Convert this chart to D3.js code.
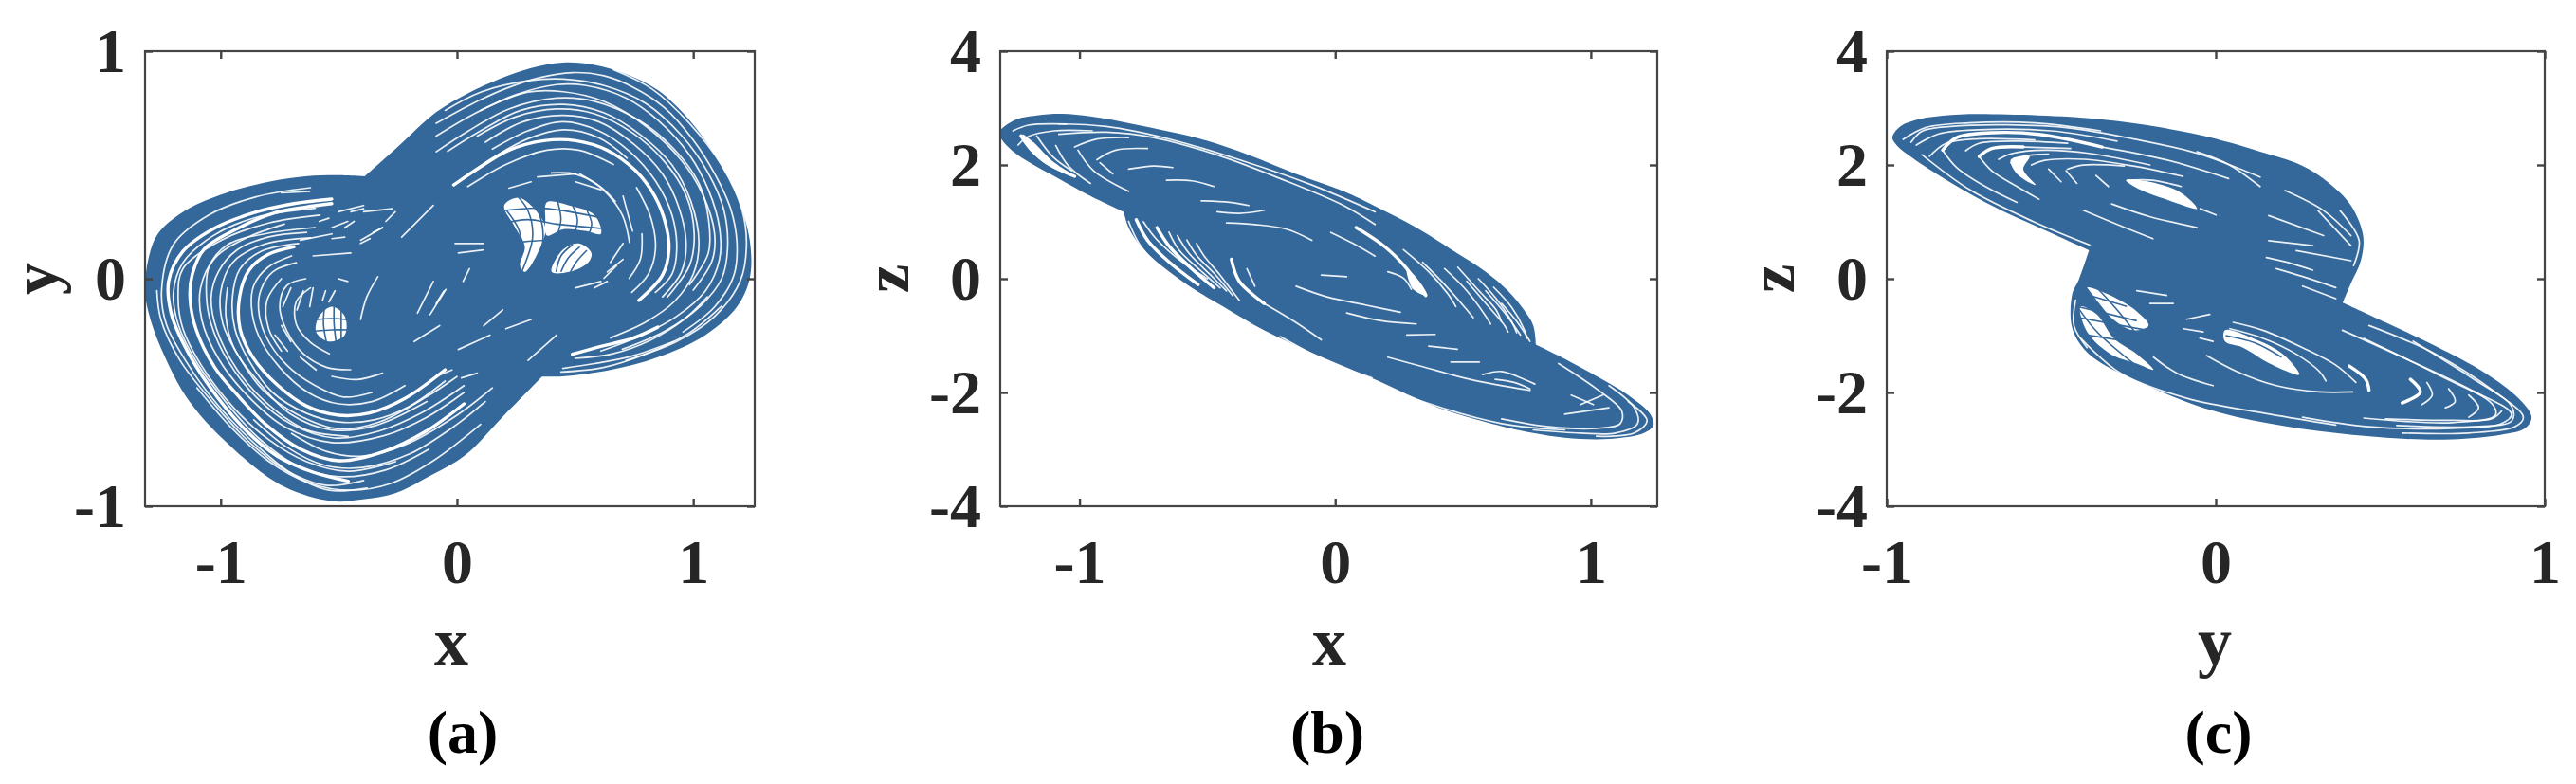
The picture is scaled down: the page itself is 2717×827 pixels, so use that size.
<!DOCTYPE html>
<html>
<head>
<meta charset="utf-8">
<script src="https://cdn.jsdelivr.net/npm/d3@7"></script>
<style>
  html, body { margin: 0; padding: 0; background: #fff; }
  text { font-family: "Liberation Serif", serif; font-weight: bold; fill: #262626; }
</style>
</head>
<body>
<svg id="chart" width="2717" height="827"></svg>
<script>
// All curves are hand-read from the picture, in data units. The traces are too
// dense to follow one by one, so each panel is an outline of the cloud plus
// the white gaps and the strands that can be made out inside it.
// A point written twice in an outline is a sharp corner.
const xTicks = [-1, 0, 1];
const yTicksA = [-1, 0, 1];
const zTicks = [-4, -2, 0, 2, 4];

// panel (a): x against y
const outlineA = [[-1.32,-0.05],[-1.306,0.086],[-1.266,0.197],[-1.159,0.294],[-0.998,0.37],[-0.797,0.426],[-0.64,0.45],[-0.50,0.455],[-0.39,0.45],[-0.39,0.45],[-0.25,0.58],[-0.088,0.732],[0.046,0.815],[0.18,0.878],[0.314,0.926],[0.448,0.95],[0.582,0.94],[0.716,0.899],[0.85,0.829],[0.984,0.697],[1.091,0.544],[1.185,0.363],[1.239,0.169],[1.239,0.002],[1.185,-0.123],[1.051,-0.248],[0.85,-0.345],[0.649,-0.401],[0.448,-0.429],[0.36,-0.43],[0.36,-0.43],[0.2,-0.6],[0.034,-0.776],[-0.12,-0.87],[-0.261,-0.943],[-0.4,-0.97],[-0.529,-0.978],[-0.73,-0.915],[-0.931,-0.762],[-1.132,-0.54],[-1.253,-0.304],[-1.305,-0.15]];
const wideGapsA = [
  [[-0.53,0.35],[-0.69,0.33],[-0.86,0.29],[-1.03,0.22],[-1.16,0.12],[-1.22,-0.01],[-1.21,-0.15],[-1.16,-0.28],[-1.05,-0.47],[-0.89,-0.67],[-0.76,-0.78],[-0.61,-0.85],[-0.46,-0.89]],
  [[-0.53,0.33],[-0.64,0.315],[-0.77,0.29],[-0.93,0.22],[-1.07,0.13],[-1.12,0.02],[-1.13,-0.08],[-1.105,-0.22],[-1.025,-0.39],[-0.93,-0.51],[-0.81,-0.64],[-0.66,-0.75],[-0.50,-0.80],[-0.31,-0.76],[-0.13,-0.67],[0.03,-0.55]],
  [[-0.69,0.14],[-0.80,0.106],[-0.88,0.037],[-0.92,-0.08],[-0.918,-0.22],[-0.864,-0.345],[-0.757,-0.47],[-0.636,-0.56],[-0.50,-0.60],[-0.37,-0.59],[-0.22,-0.526],[-0.05,-0.40]],
  [[0.488,-0.332],[0.609,-0.297],[0.743,-0.262],[0.85,-0.213]],
  [[-0.014,0.412],[0.086,0.482],[0.22,0.565],[0.368,0.607],[0.502,0.607],[0.636,0.565],[0.756,0.475],[0.837,0.363],[0.884,0.238],[0.897,0.127],[0.87,0.016],[0.77,-0.095]]
];
const thinGapsA = [
  [[-0.73,0.24],[-0.89,0.18],[-1.025,0.09],[-1.085,-0.04],[-1.08,-0.18],[-1.01,-0.35],[-0.89,-0.51],[-0.73,-0.65],[-0.53,-0.72],[-0.31,-0.69],[-0.13,-0.61],[0.03,-0.50]],
  [[-0.636,0.204],[-0.80,0.183],[-0.93,0.127],[-1.01,0.03],[-1.04,-0.08],[-1.018,-0.22],[-0.93,-0.40],[-0.797,-0.554],[-0.636,-0.665],[-0.46,-0.693]],
  [[-0.58,0.28],[-0.797,0.245],[-0.998,0.169],[-1.16,0.044],[-1.18,-0.08],[-1.16,-0.22],[-1.078,-0.387],[-0.944,-0.568],[-0.797,-0.707],[-0.636,-0.804],[-0.46,-0.846],[-0.26,-0.804]],
  [[-1.27,-0.053],[-1.253,-0.179],[-1.172,-0.359],[-1.025,-0.554],[-0.877,-0.72],[-0.717,-0.846],[-0.556,-0.908],[-0.395,-0.887]],
  [[-0.971,-0.04],[-0.978,-0.165],[-0.944,-0.304],[-0.837,-0.457],[-0.703,-0.596],[-0.529,-0.665],[-0.341,-0.644],[-0.127,-0.54]],
  [[-0.62,0.40],[-0.85,0.36],[-1.05,0.28],[-1.2,0.15],[-1.25,-0.05],[-1.23,-0.2],[-1.13,-0.39],[-1,-0.57],[-0.84,-0.74],[-0.68,-0.87],[-0.54,-0.93],[-0.38,-0.92]],
  [[-0.6,0.31],[-0.85,0.27],[-1.03,0.19],[-1.16,0.07],[-1.2,-0.06],[-1.18,-0.2],[-1.1,-0.37],[-0.98,-0.54],[-0.84,-0.7],[-0.68,-0.82],[-0.5,-0.87],[-0.3,-0.84],[-0.12,-0.75]],
  [[-0.6,0.225],[-0.8,0.2],[-0.97,0.15],[-1.05,0.05],[-1.06,-0.08],[-1.04,-0.2],[-0.97,-0.36],[-0.85,-0.52],[-0.7,-0.64],[-0.52,-0.7],[-0.33,-0.67],[-0.15,-0.59],[0.03,-0.47]],
  [[-0.62,0.18],[-0.82,0.15],[-0.95,0.07],[-1.0,-0.06],[-0.99,-0.2],[-0.93,-0.33],[-0.82,-0.49],[-0.67,-0.6],[-0.5,-0.66],[-0.33,-0.63],[-0.13,-0.52],[0.0,-0.43]],
  [[-0.67,0.155],[-0.83,0.12],[-0.92,0.04],[-0.95,-0.08],[-0.94,-0.22],[-0.88,-0.36],[-0.78,-0.5],[-0.64,-0.59],[-0.5,-0.63],[-0.35,-0.62],[-0.2,-0.56],[-0.05,-0.45]],
  [[-0.7,0.1],[-0.8,0.05],[-0.86,-0.03],[-0.87,-0.12],[-0.84,-0.25],[-0.75,-0.39],[-0.63,-0.5],[-0.5,-0.55],[-0.36,-0.54],[-0.22,-0.47]],
  [[-0.68,0.07],[-0.78,0.03],[-0.83,-0.05],[-0.84,-0.13],[-0.81,-0.25],[-0.72,-0.38],[-0.6,-0.47],[-0.48,-0.52],[-0.36,-0.5]],
  [[-0.64,0.0],[-0.72,-0.03],[-0.75,-0.12],[-0.72,-0.23],[-0.65,-0.33],[-0.55,-0.39],[-0.45,-0.4]],
  [[-0.62,-0.04],[-0.68,-0.1],[-0.68,-0.2],[-0.62,-0.28],[-0.54,-0.33]],
  [[-1.1,-0.48],[-0.95,-0.66],[-0.8,-0.8],[-0.62,-0.9],[-0.45,-0.93],[-0.28,-0.9],[-0.1,-0.8],[0.1,-0.64]],
  [[-0.86,-0.62],[-0.72,-0.74],[-0.56,-0.82],[-0.4,-0.83],[-0.2,-0.77],[0,-0.64],[0.12,-0.54]],
  [[-0.7,-0.68],[-0.55,-0.76],[-0.4,-0.78],[-0.22,-0.73],[0,-0.6],[0.15,-0.48]],
  [[-0.743,0.0],[-0.804,-0.095],[-0.797,-0.22],[-0.743,-0.318]],
  [[-0.529,-0.429],[-0.422,-0.443],[-0.315,-0.415]],
  [[-0.335,0.009],[-0.382,-0.081],[-0.408,-0.179]],
  [[-0.088,0.683],[0.059,0.766],[0.207,0.836],[0.354,0.885],[0.488,0.906],[0.622,0.892],[0.743,0.843],[0.877,0.753],[0.997,0.614],[1.091,0.461],[1.158,0.308],[1.185,0.155],[1.172,0.016],[1.091,-0.123],[0.957,-0.234]],
  [[-0.088,0.627],[0.073,0.725],[0.247,0.808],[0.421,0.853],[0.542,0.85],[0.716,0.794],[0.85,0.697],[0.984,0.544],[1.064,0.391],[1.111,0.224],[1.111,0.085],[1.051,-0.054],[0.93,-0.165],[0.783,-0.248],[0.609,-0.318]],
  [[0.086,0.627],[0.247,0.711],[0.421,0.746],[0.582,0.725],[0.743,0.641],[0.877,0.516],[0.971,0.363],[1.004,0.197],[0.984,0.058],[0.89,-0.081]],
  [[0.046,0.405],[0.207,0.502],[0.381,0.565],[0.515,0.565],[0.662,0.502]],
  [[0.729,0.002],[0.776,0.085],[0.783,0.197]],
  [[-0.088,0.558],[0.046,0.648],[0.22,0.746],[0.421,0.794],[0.582,0.78],[0.77,0.697],[0.917,0.572],[1.024,0.419],[1.064,0.266],[1.064,0.113],[0.984,-0.026]],
  [[0.662,0.919],[0.823,0.836],[0.984,0.683],[1.118,0.502],[1.205,0.308],[1.225,0.141],[1.198,-0.012],[1.091,-0.165],[0.93,-0.276],[0.716,-0.359]],
  [[0.448,-0.394],[0.582,-0.373],[0.743,-0.339],[0.917,-0.276]],
  [[-0.05,0.74],[0.1,0.82],[0.3,0.87],[0.45,0.878],[0.62,0.85],[0.8,0.77],[0.95,0.63],[1.06,0.47],[1.13,0.3],[1.145,0.13],[1.12,0],[1.03,-0.12],[0.88,-0.23],[0.7,-0.31]],
  [[-0.04,0.56],[0.1,0.65],[0.27,0.74],[0.45,0.766],[0.62,0.73],[0.78,0.63],[0.91,0.5],[0.99,0.34],[1.024,0.16],[1.0,0.02],[0.92,-0.1],[0.8,-0.19],[0.65,-0.26]],
  [[0.12,0.6],[0.28,0.69],[0.45,0.718],[0.6,0.69],[0.75,0.59],[0.87,0.46],[0.94,0.31],[0.97,0.15],[0.95,0.03],[0.87,-0.08]],
  [[0.15,0.57],[0.3,0.65],[0.45,0.69],[0.6,0.65],[0.73,0.56],[0.84,0.43],[0.91,0.28],[0.93,0.13],[0.91,0.02],[0.84,-0.06]],
  [[0.02,0.44],[0.15,0.53],[0.3,0.615],[0.45,0.655],[0.6,0.62],[0.72,0.53]],
  [[0.76,0.4],[0.82,0.27],[0.84,0.13],[0.81,0.02],[0.74,-0.06]],
  [[0.52,0.46],[0.62,0.39],[0.7,0.28],[0.73,0.16]],
  [[0.4,0.465],[0.5,0.46],[0.6,0.41],[0.67,0.34]],
  [[0.1,0.74],[0.3,0.82],[0.45,0.822],[0.62,0.78],[0.8,0.67],[0.95,0.52],[1.04,0.37],[1.09,0.2],[1.08,0.08],[1.0,-0.05]],
  [[0.5,-0.35],[0.66,-0.33],[0.82,-0.27],[0.96,-0.18],[1.06,-0.08]],
  [[0.44,-0.41],[0.62,-0.39],[0.8,-0.33],[0.98,-0.24],[1.12,-0.12]],
  [[-0.088,-0.109],[-0.055,-0.054]],[[0.026,-0.012],[0.053,0.044]],[[0.113,-0.207],[0.194,-0.137]],
  [[0.006,-0.311],[0.14,-0.248]],[[0.207,-0.22],[0.314,-0.179]],[[0.301,-0.359],[0.421,-0.248]],
  [[-0.088,-0.429],[-0.021,-0.401]],[[0.019,-0.436],[0.086,-0.415]],[[0.502,-0.04],[0.609,-0.012]],
  [[0.636,0.03],[0.703,0.085]],[[-0.008,0.155],[0.113,0.155]],[[0.006,0.113],[0.113,0.127]],
  [[-0.167,-0.151],[-0.10,-0.012]],[[-0.114,-0.158],[-0.047,-0.047]],[[-0.181,-0.276],[-0.073,-0.206]],
  [[-0.234,0.183],[-0.10,0.322]],[[-0.529,0.225],[-0.462,0.252]],[[-0.408,0.169],[-0.315,0.225]],
  [[-0.502,0.294],[-0.395,0.322]],[[-0.663,0.169],[-0.529,0.197]],[[-0.395,0.294],[-0.274,0.308]],
  [[-0.609,0.1],[-0.449,0.113]],
  [[-0.583,0.252],[-0.542,0.266]],[[-0.475,0.224],[-0.435,0.252]],[[-0.355,0.204],[-0.315,0.224]],
  [[-0.408,0.155],[-0.368,0.176]],[[-0.529,0.176],[-0.475,0.183]],[[-0.301,0.252],[-0.261,0.294]],
  [[-0.449,0.294],[-0.395,0.308]],[[-0.743,0.377],[-0.623,0.384]],
  [[-0.65,-0.053],[-0.677,-0.137]],[[-0.609,-0.04],[-0.623,-0.123]],[[-0.556,-0.053],[-0.569,-0.095]],
  [[-0.516,-0.053],[-0.542,-0.102]],[[-0.703,-0.04],[-0.737,-0.123]],[[-0.743,-0.206],[-0.703,-0.276]],
  [[-0.663,-0.345],[-0.596,-0.401]],[[-0.502,0.0],[-0.462,-0.012]],[[-0.77,-0.248],[-0.717,-0.318]],
  [[0.703,0.363],[0.743,0.21]],[[0.341,0.447],[0.502,0.461]],[[0.22,0.398],[0.314,0.426]],
  [[0.502,0.426],[0.609,0.391]],[[0.649,0.071],[0.703,0.155]],[[0.622,0.002],[0.676,0.058]],
  [[0.582,-0.04],[0.636,-0.012]]
];
const holesA = [
  [[0.2,0.322],[0.26,0.356],[0.327,0.308],[0.374,0.224],[0.354,0.141],[0.287,0.03],[0.267,0.058],[0.287,0.141],[0.247,0.224]],
  [[0.381,0.336],[0.475,0.322],[0.582,0.28],[0.609,0.197],[0.542,0.21],[0.448,0.217],[0.381,0.19],[0.374,0.266]],
  [[0.401,0.03],[0.448,0.127],[0.515,0.155],[0.569,0.113],[0.555,0.071],[0.475,0.03]],
  [[-0.583,-0.165],[-0.529,-0.123],[-0.475,-0.165],[-0.475,-0.248],[-0.542,-0.276],[-0.596,-0.234]]
];
const strandsA = [
  [[0.24,0.38],[0.30,0.30],[0.32,0.18],[0.27,0.02]],[[0.29,0.38],[0.35,0.28],[0.36,0.14],[0.30,0.02]],
  [[0.21,0.30],[0.26,0.22],[0.28,0.12]],[[0.18,0.24],[0.30,0.26],[0.42,0.24],[0.62,0.22]],
  [[0.2,0.30],[0.36,0.31],[0.6,0.27]],[[0.26,0.16],[0.40,0.17],[0.56,0.16]],
  [[0.42,0.36],[0.44,0.26],[0.42,0.18]],[[0.48,0.34],[0.51,0.26],[0.49,0.18]],[[0.55,0.30],[0.57,0.24],[0.55,0.18]],
  [[0.44,0.03],[0.47,0.09],[0.52,0.14]],[[0.48,0.03],[0.51,0.08],[0.55,0.125]],[[0.42,0.03],[0.44,0.10],[0.49,0.15]],
  [[-0.56,-0.12],[-0.565,-0.2],[-0.55,-0.29]],[[-0.52,-0.11],[-0.52,-0.2],[-0.51,-0.29]],[[-0.49,-0.13],[-0.49,-0.2],[-0.49,-0.27]],
  [[-0.6,-0.18],[-0.53,-0.175],[-0.46,-0.18]],[[-0.6,-0.23],[-0.53,-0.225],[-0.46,-0.225]]
];

// panel (b): x against z
const outlineB = [[-1.313,2.566],[-1.254,2.788],[-1.167,2.872],[-1.068,2.9],[-0.957,2.855],[-0.833,2.76],[-0.685,2.621],[-0.524,2.455],[-0.338,2.177],[-0.153,1.843],[0.033,1.537],[0.156,1.276],[0.317,0.9],[0.465,0.483],[0.589,0.122],[0.676,-0.212],[0.738,-0.546],[0.775,-0.824],[0.785,-1.157],[0.785,-1.157],[0.898,-1.407],[1.022,-1.713],[1.146,-2.047],[1.232,-2.38],[1.245,-2.575],[1.208,-2.714],[1.121,-2.797],[1.022,-2.825],[0.898,-2.797],[0.775,-2.714],[0.589,-2.519],[0.404,-2.269],[0.156,-1.771],[-0.091,-1.298],[-0.277,-0.909],[-0.437,-0.492],[-0.561,-0.159],[-0.672,0.203],[-0.759,0.564],[-0.808,0.898],[-0.827,1.176],[-0.827,1.176],[-0.957,1.454],[-1.081,1.76],[-1.204,2.065],[-1.279,2.316]];
const wideGapsB = [
  [[-1.229,2.51],[-1.192,2.288],[-1.118,2.01],[-1.019,1.8]],
  [[-0.406,0.342],[-0.375,-0.047],[-0.277,-0.437]],
  [[0.082,0.9],[0.193,0.566],[0.28,0.177],[0.329,-0.156],[0.354,-0.295]],
  [[-0.778,1.037],[-0.734,0.675],[-0.648,0.286],[-0.536,-0.103]],
  [[-0.697,0.898],[-0.648,0.564],[-0.561,0.175],[-0.474,-0.159]]
];
const thinGapsB = [
  [[-0.617,0.759],[-0.573,0.453],[-0.487,0.064],[-0.425,-0.214]],
  [[-0.542,0.62],[-0.512,0.397],[-0.45,0.064],[-0.375,-0.381]],
  [[-0.75,1.0],[-0.7,0.7],[-0.6,0.3],[-0.5,0.0]],
  [[-0.65,0.82],[-0.61,0.5],[-0.52,0.12],[-0.45,-0.16]],
  [[-0.58,0.68],[-0.54,0.4],[-0.47,0.08],[-0.4,-0.3]],
  [[-0.277,-0.437],[-0.153,-0.77],[-0.054,-1.076]],
  [[-0.345,0.175],[-0.314,-0.131]],
  [[-0.808,1.009],[-0.759,0.564],[-0.635,0.008],[-0.487,-0.437],[-0.338,-0.826]],
  [[-0.462,-0.548],[-0.277,-1.048],[-0.091,-1.382],[0.144,-1.743]],
  [[-1.081,2.721],[-0.895,2.677],[-0.648,2.455],[-0.338,2.038],[-0.091,1.648],[0.156,1.176]],
  [[-1.081,2.538],[-0.895,2.577],[-0.71,2.482],[-0.462,2.177],[-0.215,1.76],[0.033,1.287],[0.156,0.953]],
  [[-1.26,2.6],[-1.2,2.7],[-1.05,2.72]],
  [[-1.24,2.35],[-1.2,2.5],[-1.1,2.6],[-0.95,2.6]],
  [[-1.093,2.343],[-1.043,1.982],[-0.957,1.676]],
  [[-1.167,2.51],[-1.105,2.149],[-1.031,1.899]],
  [[-1.006,2.26],[-0.945,1.899],[-0.808,1.537]],
  [[-1.019,2.316],[-0.932,2.455],[-0.808,2.482]],
  [[-0.92,2.038],[-0.87,1.843]],
  [[-0.932,2.093],[-0.858,2.26],[-0.734,2.288]],
  [[-0.808,1.926],[-0.71,1.982],[-0.635,1.954]],
  [[-0.66,1.732],[-0.561,1.721],[-0.474,1.621]],
  [[-0.524,1.37],[-0.413,1.343],[-0.338,1.287]],
  [[-0.462,1.176],[-0.375,1.148],[-0.277,1.204]],
  [[-0.425,0.981],[-0.314,0.953],[-0.19,0.87],[-0.091,0.675]],
  [[-0.017,0.814],[0.07,0.62],[0.156,0.397]],
  [[-0.054,0.064],[0.045,0.036]],
  [[-0.153,-0.131],[-0.029,-0.323],[0.119,-0.462],[0.255,-0.59]],
  [[0.267,0.511],[0.366,0.122],[0.441,-0.268],[0.472,-0.49]],
  [[0.342,0.288],[0.428,-0.101],[0.515,-0.546],[0.54,-0.685]],
  [[0.428,0.177],[0.515,-0.212],[0.589,-0.657],[0.608,-0.796]],
  [[0.515,-0.045],[0.589,-0.434],[0.663,-0.824],[0.676,-0.935]],
  [[0.589,-0.212],[0.663,-0.601],[0.725,-0.99]],
  [[0.651,-0.434],[0.713,-0.768],[0.762,-1.102]],
  [[0.48,0.2],[0.56,-0.2],[0.63,-0.55],[0.65,-0.75]],
  [[0.56,0],[0.63,-0.35],[0.69,-0.75],[0.71,-0.95]],
  [[0.62,-0.15],[0.69,-0.5],[0.74,-0.9],[0.75,-1.05]],
  [[0.206,0.122],[0.267,0.01],[0.298,-0.184]],
  [[0.045,-0.601],[0.181,-0.74],[0.317,-0.796]],
  [[0.28,-0.99],[0.391,-0.979]],[[0.453,-1.463],[0.564,-1.463]],[[0.366,-1.185],[0.478,-1.241]],
  [[0.206,-1.38],[0.342,-1.546],[0.527,-1.769],[0.762,-1.963]],
  [[0.577,-1.685],[0.651,-1.63],[0.725,-1.741],[0.781,-1.852]],
  [[0.626,-1.769],[0.7,-1.824],[0.762,-1.936]],
  [[-0.215,-1.018],[0.032,-1.602],[0.342,-2.158],[0.651,-2.547],[0.898,-2.658]],
  [[0.874,-1.491],[1.022,-1.936],[1.121,-2.325],[1.115,-2.547],[1.022,-2.631],[0.836,-2.603],[0.651,-2.464]],
  [[1.071,-1.88],[1.17,-2.269],[1.183,-2.547],[1.096,-2.714],[0.96,-2.714],[0.775,-2.658]],
  [[1.146,-2.158],[1.22,-2.492],[1.17,-2.714],[1.022,-2.77]],
  [[0.898,-2.38],[1.071,-2.269]],[[0.96,-2.214],[1.047,-2.047]],[[0.923,-2.047],[1.01,-2.214]]
];
const holesB = [
  [[-1.223,2.538],[-1.18,2.399],[-1.105,2.065],[-1.019,1.8],[-1.13,2.01],[-1.204,2.316]],
  [[0.28,0.177],[0.329,-0.045],[0.36,-0.295],[0.305,-0.184]]
];
const strandsB = [];

// panel (c): y against z
const outlineC = [[-0.983,2.482],[-0.959,2.677],[-0.892,2.816],[-0.777,2.888],[-0.633,2.888],[-0.441,2.844],[-0.249,2.733],[-0.057,2.538],[0.039,2.399],[0.135,2.232],[0.261,1.991],[0.344,1.683],[0.411,1.286],[0.448,0.758],[0.441,0.317],[0.411,-0.079],[0.386,-0.42],[0.386,-0.42],[0.516,-0.767],[0.668,-1.184],[0.819,-1.657],[0.92,-2.102],[0.96,-2.435],[0.94,-2.63],[0.869,-2.741],[0.718,-2.825],[0.567,-2.813],[0.365,-2.713],[0.164,-2.547],[-0.038,-2.269],[-0.24,-1.796],[-0.361,-1.435],[-0.411,-1.157],[-0.438,-0.823],[-0.436,-0.267],[-0.416,-0.017],[-0.385,0.5],[-0.385,0.5],[-0.537,0.898],[-0.681,1.287],[-0.825,1.76],[-0.921,2.121],[-0.969,2.343]];
const wideGapsC = [
  [[-0.83,2.26],[-0.787,2.482],[-0.681,2.566],[-0.537,2.538],[-0.345,2.316]],
  [[-0.719,2.149],[-0.681,2.288],[-0.585,2.316]],
  [[0.406,-1.535],[0.456,-1.768],[0.466,-1.963]],
  [[0.592,-1.768],[0.622,-1.991],[0.567,-2.185]]
];
const thinGapsC = [
  [[-0.926,2.399],[-0.892,2.594],[-0.806,2.677],[-0.633,2.705],[-0.441,2.649],[-0.249,2.455],[-0.057,2.204],[0.135,1.787]],
  [[-0.345,2.316],[-0.153,2.093],[0.039,1.76]],
  [[-0.95,2.45],[-0.88,2.66],[-0.75,2.74],[-0.55,2.74],[-0.35,2.6]],
  [[-0.91,2.35],[-0.84,2.55],[-0.72,2.62],[-0.5,2.6],[-0.3,2.42]],
  [[-0.87,2.15],[-0.82,2.38],[-0.72,2.46],[-0.55,2.44]],
  [[-0.76,2.25],[-0.72,2.38],[-0.6,2.42],[-0.45,2.38]],
  [[-0.66,2.1],[-0.62,2.2],[-0.52,2.26],[-0.38,2.2],[-0.2,2.0]],
  [[-0.56,2.0],[-0.52,2.08],[-0.4,2.1],[-0.25,1.98],[-0.1,1.8]],
  [[-0.892,2.177],[-0.748,1.565],[-0.556,1.009],[-0.383,0.592]],
  [[-0.585,2.316],[-0.441,2.288]],
  [[-0.83,2.26],[-0.787,1.954],[-0.7,1.621],[-0.604,1.343]],
  [[-0.623,2.038],[-0.585,2.149],[-0.508,2.188]],
  [[-0.719,2.149],[-0.681,1.899],[-0.604,1.621],[-0.537,1.398]],
  [[-0.455,1.899],[-0.422,1.676]],[[-0.508,1.926],[-0.47,1.704]],
  [[-0.451,1.926],[-0.403,1.999],[-0.278,1.982]],
  [[-0.268,1.732],[-0.191,1.732],[-0.105,1.621]],
  [[-0.364,1.815],[-0.326,1.621]],
  [[-0.403,1.204],[-0.287,0.926],[-0.191,0.703]],
  [[-0.316,1.315],[-0.201,1.092],[-0.057,0.898]],
  [[-0.047,1.231],[0.001,1.12]],
  [[-0.057,2.232],[0.039,2.01],[0.135,1.621]],
  [[0.154,0.372],[0.234,0.261],[0.295,0.15]],
  [[0.184,0.178],[0.264,0.039],[0.365,-0.156]],
  [[0.264,-0.128],[0.365,-0.35]],
  [[0.161,1.11],[0.328,0.758]],[[0.311,1.198],[0.411,0.581]],[[0.245,0.493],[0.411,0.317]],[[0.161,0.67],[0.295,0.581]],
  [[0.211,1.55],[0.328,1.198],[0.411,0.758]],
  [[0.378,1.198],[0.436,0.67],[0.419,0.229]],
  [[0.043,-0.879],[0.143,-1.045],[0.244,-1.323],[0.315,-1.629],[0.335,-1.796]],
  [[0.053,-0.767],[0.143,-0.906],[0.264,-1.212],[0.365,-1.518],[0.426,-1.824]],
  [[-0.028,-1.351],[0.063,-1.629],[0.184,-1.88],[0.315,-1.991],[0.416,-1.991]],
  [[0.642,-1.824],[0.658,-2.046],[0.627,-2.213]],
  [[0.708,-1.935],[0.728,-2.157],[0.698,-2.269]],
  [[0.769,-2.046],[0.799,-2.269],[0.769,-2.435]],
  [[0.385,-0.906],[0.567,-1.379],[0.769,-1.935],[0.899,-2.38],[0.869,-2.547],[0.718,-2.63],[0.466,-2.602],[0.264,-2.435]],
  [[0.466,-0.823],[0.668,-1.323],[0.849,-1.991],[0.935,-2.435],[0.91,-2.602],[0.769,-2.713],[0.567,-2.713]],
  [[0.869,-2.324],[0.839,-2.463],[0.718,-2.491],[0.516,-2.463]],
  [[0.6,-1.1],[0.78,-1.75],[0.9,-2.25],[0.9,-2.5],[0.78,-2.6],[0.55,-2.58]],
  [[0.45,-1.05],[0.68,-1.7],[0.84,-2.2],[0.85,-2.4],[0.72,-2.53],[0.45,-2.45]],
  [[-0.411,-1.045],[-0.29,-1.657],[-0.088,-2.102],[0.164,-2.38],[0.365,-2.574]],
  [[-0.189,-1.379],[-0.119,-1.657],[-0.008,-1.88]],
  [[-0.098,-0.879],[-0.038,-0.934]],[[-0.088,-0.712],[-0.018,-0.628]],[[-0.048,-1.045],[-0.008,-1.101]],
  [[-0.24,-0.211],[-0.149,-0.295]],[[-0.2,-0.434],[-0.129,-0.434]],
  [[-0.426,-0.378],[-0.431,-0.823],[-0.391,-1.212]]
];
const holesC = [
  [[-0.391,-0.156],[-0.33,-0.267],[-0.24,-0.573],[-0.204,-0.823],[-0.25,-0.906],[-0.3,-0.767],[-0.35,-0.489]],
  [[-0.411,-0.489],[-0.361,-0.628],[-0.31,-1.045],[-0.24,-1.323],[-0.189,-1.601],[-0.24,-1.49],[-0.32,-1.323],[-0.391,-0.934]],
  [[-0.273,1.732],[-0.201,1.704],[-0.105,1.509],[-0.057,1.231],[-0.153,1.398],[-0.23,1.565]],
  [[0.028,-0.906],[0.113,-1.045],[0.204,-1.323],[0.254,-1.685],[0.164,-1.49],[0.083,-1.212],[0.028,-1.101]],
  [[-0.623,2.093],[-0.566,2.149],[-0.585,1.926],[-0.547,1.648],[-0.604,1.843]]
];
const strandsC = [
  [[-0.401,-0.1],[-0.35,-0.489],[-0.25,-1.212]],
  [[-0.366,-0.128],[-0.3,-0.545],[-0.209,-1.212]],
  [[-0.421,-0.489],[-0.361,-0.934],[-0.25,-1.49]],
  [[-0.416,-0.239],[-0.27,-0.489]],
  [[-0.421,-0.489],[-0.24,-0.74]],
  [[-0.416,-0.684],[-0.209,-0.906]],
  [[-0.391,-0.99],[-0.24,-1.129]],
  [[0.03,-1.0],[0.12,-1.13],[0.2,-1.38]]
];

const traceColor = "#34689b";
const svg = d3.select("#chart");

const panels = [
  { left: 153, right: 796, xDomain: [-1.32, 1.26], yDomain: [-1, 1], yTicks: yTicksA, xName: "x", yName: "y", xNameAt: 476, yNameAt: 61, tag: "(a)", tagAt: 488,
    outline: outlineA, wide: wideGapsA, thin: thinGapsA, holes: holesA, strands: strandsA },
  { left: 1055, right: 1748, xDomain: [-1.31, 1.26], yDomain: [-4, 4], yTicks: zTicks, xName: "x", yName: "z", xNameAt: 1402, yNameAt: 958, tag: "(b)", tagAt: 1400,
    outline: outlineB, wide: wideGapsB, thin: thinGapsB, holes: holesB, strands: strandsB },
  { left: 1990, right: 2684, xDomain: [-1, 1], yDomain: [-4, 4], yTicks: zTicks, xName: "y", yName: "z", xNameAt: 2336, yNameAt: 1892, tag: "(c)", tagAt: 2340,
    outline: outlineC, wide: wideGapsC, thin: thinGapsC, holes: holesC, strands: strandsC }
];

const boxTop = 54, boxBottom = 534;

function drawPanel(p) {
  const x = d3.scaleLinear().domain(p.xDomain).range([p.left, p.right]);
  const y = d3.scaleLinear().domain(p.yDomain).range([boxBottom, boxTop]);
  const line = d3.line().x((d) => x(d[0])).y((d) => y(d[1])).curve(d3.curveCatmullRom.alpha(0.5));
  const closed = d3.line().x((d) => x(d[0])).y((d) => y(d[1])).curve(d3.curveCatmullRomClosed.alpha(0.5));

  svg.append("path").attr("d", closed(p.outline)).attr("fill", traceColor);

  svg.selectAll(null).data(p.holes).enter().append("path")
    .attr("d", closed).attr("fill", "#fff");

  svg.selectAll(null).data(p.wide).enter().append("path")
    .attr("d", line).attr("fill", "none").attr("stroke", "#fff")
    .attr("stroke-width", 3.4).attr("stroke-linecap", "round");

  svg.selectAll(null).data(p.thin).enter().append("path")
    .attr("d", line).attr("fill", "none").attr("stroke", "#fff")
    .attr("stroke-width", 1.7).attr("stroke-opacity", 0.9).attr("stroke-linecap", "round");

  svg.selectAll(null).data(p.strands).enter().append("path")
    .attr("d", line).attr("fill", "none").attr("stroke", traceColor).attr("stroke-width", 1.6);

  // inward ticks on all four sides, labels only on bottom and left
  const axes = [
    [d3.axisBottom(x).tickValues(xTicks).tickSize(-8).tickPadding(34).tickFormat(String), boxBottom, 0],
    [d3.axisTop(x).tickValues(xTicks).tickSize(-8).tickFormat(""), boxTop, 0],
    [d3.axisLeft(y).tickValues(p.yTicks).tickSize(-8).tickPadding(20).tickFormat(String), 0, p.left],
    [d3.axisRight(y).tickValues(p.yTicks).tickSize(-8).tickFormat(""), 0, p.right]
  ];
  axes.forEach(([axis, ty, tx]) => {
    const g = svg.append("g").attr("transform", `translate(${tx},${ty})`).call(axis);
    g.select(".domain").remove();
    g.selectAll("line").attr("stroke", "#444").attr("stroke-width", 2.4);
    g.selectAll("text").attr("font-size", 66);
  });

  svg.append("rect")
    .attr("x", p.left).attr("y", boxTop)
    .attr("width", p.right - p.left).attr("height", boxBottom - boxTop)
    .attr("fill", "none").attr("stroke", "#444").attr("stroke-width", 2.2);

  svg.append("text").attr("x", p.xNameAt).attr("y", 701)
    .attr("text-anchor", "middle").attr("font-size", 72).text(p.xName);

  svg.append("text")
    .attr("transform", `translate(${p.yNameAt},${(boxTop + boxBottom) / 2}) rotate(-90)`)
    .attr("text-anchor", "middle").attr("font-size", 68).text(p.yName);

  svg.append("text").attr("x", p.tagAt).attr("y", 794)
    .attr("text-anchor", "middle").attr("font-size", 64).style("fill", "#000").text(p.tag);
}

panels.forEach(drawPanel);
</script>
</body>
</html>
